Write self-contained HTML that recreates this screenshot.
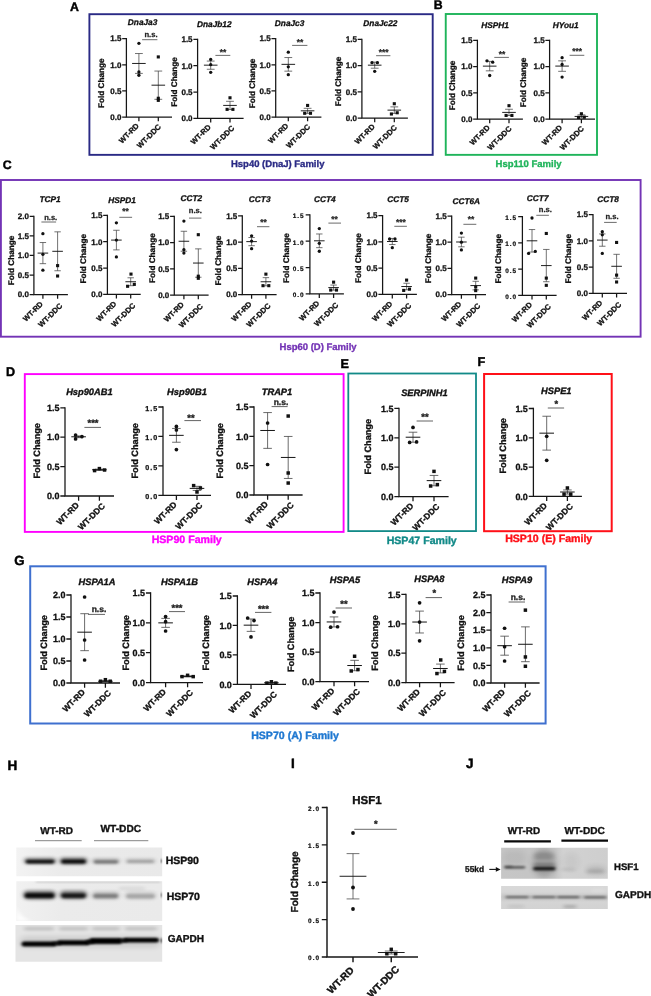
<!DOCTYPE html><html><head><meta charset="utf-8"><title>Figure</title>
<style>html,body{margin:0;padding:0;background:#fff}svg{display:block}</style></head><body>
<svg width="651" height="996" viewBox="0 0 651 996" font-family='"Liberation Sans", Arial, sans-serif' font-weight="bold" fill="#111" text-rendering="geometricPrecision">
<defs><filter id="b1" x="-20%" y="-100%" width="140%" height="300%"><feGaussianBlur stdDeviation="1.6 1.0"/></filter><filter id="b2" x="-20%" y="-100%" width="140%" height="300%"><feGaussianBlur stdDeviation="2.2 1.6"/></filter><filter id="b3" x="-20%" y="-200%" width="140%" height="500%"><feGaussianBlur stdDeviation="3 2.4"/></filter><linearGradient id="g1"><stop offset="0" stop-color="#f3f3f3"/><stop offset="0.3" stop-color="#ebebeb"/><stop offset="1" stop-color="#e9e9e9"/></linearGradient><linearGradient id="g2"><stop offset="0" stop-color="#f1f1f1"/><stop offset="0.3" stop-color="#ebebeb"/><stop offset="1" stop-color="#eaeaea"/></linearGradient><linearGradient id="g4"><stop offset="0" stop-color="#c6c6c6"/><stop offset="0.5" stop-color="#c4c4c4"/><stop offset="0.58" stop-color="#d2d2d2"/><stop offset="1" stop-color="#cecece"/></linearGradient><linearGradient id="g5" x2="0" y2="1"><stop offset="0" stop-color="#d9d9d9"/><stop offset="1" stop-color="#d2d2d2"/></linearGradient></defs>
<rect width="651" height="996" fill="#fff"/>
<rect x="89.4" y="14.2" width="343.3" height="140.65" fill="none" stroke="#2a2a85" stroke-width="1.9"/>
<rect x="445.75" y="14" width="151.25" height="140.85" fill="none" stroke="#1fb45a" stroke-width="1.9"/>
<rect x="0.9" y="180" width="639.7" height="156.7" fill="none" stroke="#7333b5" stroke-width="1.9"/>
<rect x="24.8" y="374.1" width="318.8" height="157.8" fill="none" stroke="#ff00ff" stroke-width="1.9"/>
<rect x="348.3" y="373.5" width="127.7" height="157.6" fill="none" stroke="#128a88" stroke-width="1.8"/>
<rect x="484.1" y="374" width="127.6" height="157.2" fill="none" stroke="#ff1018" stroke-width="2"/>
<rect x="30.2" y="566.3" width="515.4" height="157.2" fill="none" stroke="#3f70cf" stroke-width="2"/>
<text x="69.9" y="10.8" font-size="12.3" fill="#000" stroke="#000" stroke-width="0.43">A</text>
<text x="433.8" y="8.8" font-size="12.3" fill="#000" stroke="#000" stroke-width="0.43">B</text>
<text x="2.7" y="168.9" font-size="12.3" fill="#000" stroke="#000" stroke-width="0.43">C</text>
<text x="6" y="375.8" font-size="12.6" fill="#000" stroke="#000" stroke-width="0.44">D</text>
<text x="340.5" y="367.6" font-size="12.6" fill="#000" stroke="#000" stroke-width="0.44">E</text>
<text x="477.6" y="365.5" font-size="12.6" fill="#000" stroke="#000" stroke-width="0.44">F</text>
<text x="14.2" y="565" font-size="13.2" fill="#000" stroke="#000" stroke-width="0.46">G</text>
<text x="7.6" y="769.5" font-size="13.5" fill="#000" stroke="#000" stroke-width="0.47">H</text>
<text x="291" y="767.7" font-size="13.5" fill="#000" stroke="#000" stroke-width="0.47">I</text>
<text x="465.9" y="767.6" font-size="13.5" fill="#000" stroke="#000" stroke-width="0.47">J</text>
<text x="277.7" y="166.6" font-size="9.5" text-anchor="middle" fill="#2a2a85" stroke="#2a2a85" stroke-width="0.33">Hsp40 (DnaJ) Family</text>
<text x="528.6" y="166.6" font-size="9.5" text-anchor="middle" fill="#1fb45a" stroke="#1fb45a" stroke-width="0.33">Hsp110 Family</text>
<text x="318.1" y="349.9" font-size="9.5" text-anchor="middle" fill="#7333b5" stroke="#7333b5" stroke-width="0.33">Hsp60 (D) Family</text>
<text x="186.7" y="543" font-size="10.6" text-anchor="middle" fill="#ff00ff" stroke="#ff00ff" stroke-width="0.37">HSP90 Family</text>
<text x="421.7" y="544" font-size="10.6" text-anchor="middle" fill="#128a88" stroke="#128a88" stroke-width="0.37">HSP47 Family</text>
<text x="548.7" y="542" font-size="10.6" text-anchor="middle" fill="#ff1018" stroke="#ff1018" stroke-width="0.37">HSP10 (E) Family</text>
<text x="295" y="739" font-size="10.6" text-anchor="middle" fill="#1f78d1" stroke="#1f78d1" stroke-width="0.37">HSP70 (A) Family</text>
<g><path d="M126.4 37.98V117.1H172" fill="none" stroke="#161616" stroke-width="1.25"/><text x="121.38" y="119.94" font-size="8" text-anchor="end" stroke="#111" stroke-width="0.28">0.0</text><text x="121.38" y="93.77" font-size="8" text-anchor="end" stroke="#111" stroke-width="0.28">0.5</text><text x="121.38" y="67.61" font-size="8" text-anchor="end" stroke="#111" stroke-width="0.28">1.0</text><text x="121.38" y="41.44" font-size="8" text-anchor="end" stroke="#111" stroke-width="0.28">1.5</text><path d="M126.4 117.1h-4.22M126.4 90.93h-4.22M126.4 64.77h-4.22M126.4 38.6h-4.22M138.9 117.1v4.22M158.3 117.1v4.22" fill="none" stroke="#161616" stroke-width="1.25"/><text transform="translate(139.5 126.3) rotate(-45)" font-size="7.6" text-anchor="end" stroke="#111" stroke-width="0.27">WT-RD</text><text transform="translate(161.4 127.3) rotate(-45)" font-size="7.6" text-anchor="end" stroke="#111" stroke-width="0.27">WT-DDC</text><text transform="translate(101.4 83.3) rotate(-90)" font-size="8.2" text-anchor="middle" dy="2.46" stroke="#111" stroke-width="0.29">Fold Change</text><text x="142.6" y="24.89" font-size="8.3" text-anchor="middle" font-style="italic" stroke="#111" stroke-width="0.29">DnaJa3</text><path d="M142.1 39.7H157.4" stroke="#3a3a3a" stroke-width="0.75"/><text x="151" y="37.33" font-size="7.6" text-anchor="middle" fill="#222" stroke="#222" stroke-width="0.27">n.s.</text><path d="M138.9 53.52V73.4M135 53.52h7.8M135 73.4h7.8" fill="none" stroke="#444" stroke-width="0.75"/><path d="M132.1 63.46h13.6" stroke="#111" stroke-width="0.94"/><circle cx="138.9" cy="43.31" r="1.65"/><circle cx="138.9" cy="71.94" r="1.65"/><circle cx="138.9" cy="75.23" r="1.65"/><path d="M158.3 71.05V99.31M154.4 71.05h7.8M154.4 99.31h7.8" fill="none" stroke="#444" stroke-width="0.75"/><path d="M151.5 85.18h13.6" stroke="#111" stroke-width="0.94"/><rect x="156.75" y="55.37" width="3.1" height="3.1"/><rect x="156.75" y="96.71" width="3.1" height="3.1"/><rect x="156.75" y="98.8" width="3.1" height="3.1"/></g>
<g><path d="M197.6 38.77V118.3H243.6" fill="none" stroke="#161616" stroke-width="1.25"/><text x="192.57" y="121.14" font-size="8" text-anchor="end" stroke="#111" stroke-width="0.28">0.0</text><text x="192.57" y="94.84" font-size="8" text-anchor="end" stroke="#111" stroke-width="0.28">0.5</text><text x="192.57" y="68.54" font-size="8" text-anchor="end" stroke="#111" stroke-width="0.28">1.0</text><text x="192.57" y="42.24" font-size="8" text-anchor="end" stroke="#111" stroke-width="0.28">1.5</text><path d="M197.6 118.3h-4.22M197.6 92h-4.22M197.6 65.7h-4.22M197.6 39.4h-4.22M210.7 118.3v4.22M230 118.3v4.22" fill="none" stroke="#161616" stroke-width="1.25"/><text transform="translate(211.3 127.5) rotate(-45)" font-size="7.6" text-anchor="end" stroke="#111" stroke-width="0.27">WT-RD</text><text transform="translate(234.8 128.7) rotate(-45)" font-size="7.6" text-anchor="end" stroke="#111" stroke-width="0.27">WT-DDC</text><text transform="translate(175 81.9) rotate(-90)" font-size="8.2" text-anchor="middle" dy="2.46" stroke="#111" stroke-width="0.29">Fold Change</text><text x="214.3" y="26.69" font-size="8.3" text-anchor="middle" font-style="italic" stroke="#111" stroke-width="0.29">DnaJb12</text><path d="M215.4 55.4H230.3" stroke="#3a3a3a" stroke-width="0.75"/><text x="223.1" y="54.85" font-size="8.36" text-anchor="middle" fill="#222" stroke="#222" stroke-width="0.29">**</text><path d="M210.7 61.07V69.28M206.8 61.07h7.8M206.8 69.28h7.8" fill="none" stroke="#444" stroke-width="0.75"/><path d="M203.9 65.17h13.6" stroke="#111" stroke-width="0.94"/><circle cx="210.7" cy="59.39" r="1.65"/><circle cx="210.7" cy="64.65" r="1.65"/><circle cx="210.7" cy="72.28" r="1.65"/><path d="M230 101.31V109.52M226.1 101.31h7.8M226.1 109.52h7.8" fill="none" stroke="#444" stroke-width="0.75"/><path d="M223.2 105.41h13.6" stroke="#111" stroke-width="0.94"/><rect x="228.45" y="96.24" width="3.1" height="3.1"/><rect x="225.55" y="107.81" width="3.1" height="3.1"/><rect x="231.35" y="107.81" width="3.1" height="3.1"/></g>
<g><path d="M275.7 37.98V117.1H321.4" fill="none" stroke="#161616" stroke-width="1.25"/><text x="270.67" y="119.94" font-size="8" text-anchor="end" stroke="#111" stroke-width="0.28">0.0</text><text x="270.67" y="93.77" font-size="8" text-anchor="end" stroke="#111" stroke-width="0.28">0.5</text><text x="270.67" y="67.61" font-size="8" text-anchor="end" stroke="#111" stroke-width="0.28">1.0</text><text x="270.67" y="41.44" font-size="8" text-anchor="end" stroke="#111" stroke-width="0.28">1.5</text><path d="M275.7 117.1h-4.22M275.7 90.93h-4.22M275.7 64.77h-4.22M275.7 38.6h-4.22M288.3 117.1v4.22M307.6 117.1v4.22" fill="none" stroke="#161616" stroke-width="1.25"/><text transform="translate(288.9 126.3) rotate(-45)" font-size="7.6" text-anchor="end" stroke="#111" stroke-width="0.27">WT-RD</text><text transform="translate(310.7 127.3) rotate(-45)" font-size="7.6" text-anchor="end" stroke="#111" stroke-width="0.27">WT-DDC</text><text transform="translate(252.1 83.4) rotate(-90)" font-size="8.2" text-anchor="middle" dy="2.46" stroke="#111" stroke-width="0.29">Fold Change</text><text x="289.6" y="25.59" font-size="8.3" text-anchor="middle" font-style="italic" stroke="#111" stroke-width="0.29">DnaJc3</text><path d="M292.1 45.4H307.4" stroke="#3a3a3a" stroke-width="0.75"/><text x="300" y="44.65" font-size="8.36" text-anchor="middle" fill="#222" stroke="#222" stroke-width="0.29">**</text><path d="M288.3 57.54V71.15M284.4 57.54h7.8M284.4 71.15h7.8" fill="none" stroke="#444" stroke-width="0.75"/><path d="M281.5 64.35h13.6" stroke="#111" stroke-width="0.94"/><circle cx="288.3" cy="52.21" r="1.65"/><circle cx="288.3" cy="66.86" r="1.65"/><circle cx="288.3" cy="74.71" r="1.65"/><path d="M307.6 108.31V113.33M303.7 108.31h7.8M303.7 113.33h7.8" fill="none" stroke="#444" stroke-width="0.75"/><path d="M300.8 110.82h13.6" stroke="#111" stroke-width="0.94"/><rect x="306.05" y="103.88" width="3.1" height="3.1"/><rect x="303.15" y="111.73" width="3.1" height="3.1"/><rect x="308.95" y="111.73" width="3.1" height="3.1"/></g>
<g><path d="M361.9 38.67V118H407.9" fill="none" stroke="#161616" stroke-width="1.25"/><text x="356.87" y="120.84" font-size="8" text-anchor="end" stroke="#111" stroke-width="0.28">0.0</text><text x="356.87" y="94.61" font-size="8" text-anchor="end" stroke="#111" stroke-width="0.28">0.5</text><text x="356.87" y="68.37" font-size="8" text-anchor="end" stroke="#111" stroke-width="0.28">1.0</text><text x="356.87" y="42.14" font-size="8" text-anchor="end" stroke="#111" stroke-width="0.28">1.5</text><path d="M361.9 118h-4.22M361.9 91.77h-4.22M361.9 65.53h-4.22M361.9 39.3h-4.22M374.7 118v4.22M394.3 118v4.22" fill="none" stroke="#161616" stroke-width="1.25"/><text transform="translate(375.3 127.2) rotate(-45)" font-size="7.6" text-anchor="end" stroke="#111" stroke-width="0.27">WT-RD</text><text transform="translate(397.4 128.2) rotate(-45)" font-size="7.6" text-anchor="end" stroke="#111" stroke-width="0.27">WT-DDC</text><text transform="translate(338.6 81.5) rotate(-90)" font-size="8.2" text-anchor="middle" dy="2.46" stroke="#111" stroke-width="0.29">Fold Change</text><text x="380.4" y="26.29" font-size="8.3" text-anchor="middle" font-style="italic" stroke="#111" stroke-width="0.29">DnaJc22</text><path d="M376.1 55.7H390.4" stroke="#3a3a3a" stroke-width="0.75"/><text x="383.6" y="55.05" font-size="8.36" text-anchor="middle" fill="#222" stroke="#222" stroke-width="0.29">***</text><path d="M374.7 62.12V68.21M370.8 62.12h7.8M370.8 68.21h7.8" fill="none" stroke="#444" stroke-width="0.75"/><path d="M367.9 65.17h13.6" stroke="#111" stroke-width="0.94"/><circle cx="372" cy="62.65" r="1.65"/><circle cx="377.4" cy="62.65" r="1.65"/><circle cx="374.7" cy="71.3" r="1.65"/><path d="M394.3 106.88V113.38M390.4 106.88h7.8M390.4 113.38h7.8" fill="none" stroke="#444" stroke-width="0.75"/><path d="M387.5 110.13h13.6" stroke="#111" stroke-width="0.94"/><rect x="392.75" y="102.18" width="3.1" height="3.1"/><rect x="389.85" y="112.46" width="3.1" height="3.1"/><rect x="395.65" y="111.2" width="3.1" height="3.1"/></g>
<g><path d="M477.4 39.77V119H522.9" fill="none" stroke="#161616" stroke-width="1.25"/><text x="472.37" y="121.84" font-size="8" text-anchor="end" stroke="#111" stroke-width="0.28">0.0</text><text x="472.37" y="95.64" font-size="8" text-anchor="end" stroke="#111" stroke-width="0.28">0.5</text><text x="472.37" y="69.44" font-size="8" text-anchor="end" stroke="#111" stroke-width="0.28">1.0</text><text x="472.37" y="43.24" font-size="8" text-anchor="end" stroke="#111" stroke-width="0.28">1.5</text><path d="M477.4 119h-4.22M477.4 92.8h-4.22M477.4 66.6h-4.22M477.4 40.4h-4.22M489.7 119v4.22M509 119v4.22" fill="none" stroke="#161616" stroke-width="1.25"/><text transform="translate(490.3 128.2) rotate(-45)" font-size="7.6" text-anchor="end" stroke="#111" stroke-width="0.27">WT-RD</text><text transform="translate(512.1 129.2) rotate(-45)" font-size="7.6" text-anchor="end" stroke="#111" stroke-width="0.27">WT-DDC</text><text transform="translate(452.1 85.4) rotate(-90)" font-size="8.2" text-anchor="middle" dy="2.46" stroke="#111" stroke-width="0.29">Fold Change</text><text x="495" y="28.39" font-size="8.3" text-anchor="middle" font-style="italic" stroke="#111" stroke-width="0.29">HSPH1</text><path d="M494.3 57.4H508.9" stroke="#3a3a3a" stroke-width="0.75"/><text x="502.1" y="56.55" font-size="8.36" text-anchor="middle" fill="#222" stroke="#222" stroke-width="0.29">**</text><path d="M489.7 61.41V70.84M485.8 61.41h7.8M485.8 70.84h7.8" fill="none" stroke="#444" stroke-width="0.75"/><path d="M482.9 66.13h13.6" stroke="#111" stroke-width="0.94"/><circle cx="487" cy="60.84" r="1.65"/><circle cx="492.7" cy="62.15" r="1.65"/><circle cx="489.7" cy="75.51" r="1.65"/><path d="M509 109.25V115.54M505.1 109.25h7.8M505.1 115.54h7.8" fill="none" stroke="#444" stroke-width="0.75"/><path d="M502.2 112.4h13.6" stroke="#111" stroke-width="0.94"/><rect x="507.45" y="104.14" width="3.1" height="3.1"/><rect x="504.55" y="113.89" width="3.1" height="3.1"/><rect x="510.35" y="113.89" width="3.1" height="3.1"/></g>
<g><path d="M549.6 39.77V119H595" fill="none" stroke="#161616" stroke-width="1.25"/><text x="544.58" y="121.84" font-size="8" text-anchor="end" stroke="#111" stroke-width="0.28">0.0</text><text x="544.58" y="95.64" font-size="8" text-anchor="end" stroke="#111" stroke-width="0.28">0.5</text><text x="544.58" y="69.44" font-size="8" text-anchor="end" stroke="#111" stroke-width="0.28">1.0</text><text x="544.58" y="43.24" font-size="8" text-anchor="end" stroke="#111" stroke-width="0.28">1.5</text><path d="M549.6 119h-4.22M549.6 92.8h-4.22M549.6 66.6h-4.22M549.6 40.4h-4.22M562.1 119v4.22M581.4 119v4.22" fill="none" stroke="#161616" stroke-width="1.25"/><text transform="translate(562.7 128.2) rotate(-45)" font-size="7.6" text-anchor="end" stroke="#111" stroke-width="0.27">WT-RD</text><text transform="translate(584.5 129.2) rotate(-45)" font-size="7.6" text-anchor="end" stroke="#111" stroke-width="0.27">WT-DDC</text><text transform="translate(524 82.5) rotate(-90)" font-size="8.2" text-anchor="middle" dy="2.46" stroke="#111" stroke-width="0.29">Fold Change</text><text x="565.7" y="28.39" font-size="8.3" text-anchor="middle" font-style="italic" stroke="#111" stroke-width="0.29">HYou1</text><path d="M569.6 55.3H584.3" stroke="#3a3a3a" stroke-width="0.75"/><text x="577.1" y="54.35" font-size="8.36" text-anchor="middle" fill="#222" stroke="#222" stroke-width="0.29">***</text><path d="M562.1 60.84V71.32M558.2 60.84h7.8M558.2 71.32h7.8" fill="none" stroke="#444" stroke-width="0.75"/><path d="M555.3 66.08h13.6" stroke="#111" stroke-width="0.94"/><circle cx="562.1" cy="57.69" r="1.65"/><circle cx="562.1" cy="64.5" r="1.65"/><circle cx="562.1" cy="77.08" r="1.65"/><path d="M581.4 114.86V118M577.5 114.86h7.8M577.5 118h7.8" fill="none" stroke="#444" stroke-width="0.75"/><path d="M574.6 116.43h13.6" stroke="#111" stroke-width="0.94"/><rect x="579.85" y="112.21" width="3.1" height="3.1"/><rect x="576.95" y="115.88" width="3.1" height="3.1"/><rect x="582.75" y="115.62" width="3.1" height="3.1"/></g>
<g><path d="M33.9 215.68V294.6H67.9" fill="none" stroke="#161616" stroke-width="1.25"/><text x="28.87" y="297.44" font-size="8" text-anchor="end" stroke="#111" stroke-width="0.28">0.0</text><text x="28.87" y="277.87" font-size="8" text-anchor="end" stroke="#111" stroke-width="0.28">0.5</text><text x="28.87" y="258.29" font-size="8" text-anchor="end" stroke="#111" stroke-width="0.28">1.0</text><text x="28.87" y="238.72" font-size="8" text-anchor="end" stroke="#111" stroke-width="0.28">1.5</text><text x="28.87" y="219.14" font-size="8" text-anchor="end" stroke="#111" stroke-width="0.28">2.0</text><path d="M33.9 294.6h-4.22M33.9 275.03h-4.22M33.9 255.45h-4.22M33.9 235.88h-4.22M33.9 216.3h-4.22M42.9 294.6v4.22M57.6 294.6v4.22" fill="none" stroke="#161616" stroke-width="1.25"/><text transform="translate(43.5 304.5) rotate(-45)" font-size="7.6" text-anchor="end" stroke="#111" stroke-width="0.27">WT-RD</text><text transform="translate(62.8 306.3) rotate(-45)" font-size="7.6" text-anchor="end" stroke="#111" stroke-width="0.27">WT-DDC</text><text transform="translate(11.1 260.4) rotate(-90)" font-size="8.2" text-anchor="middle" dy="2.46" stroke="#111" stroke-width="0.29">Fold Change</text><text x="50" y="202.09" font-size="8.3" text-anchor="middle" font-style="italic" stroke="#111" stroke-width="0.29">TCP1</text><path d="M41.4 222H56.1" stroke="#3a3a3a" stroke-width="0.75"/><text x="50.7" y="220.13" font-size="7.6" text-anchor="middle" fill="#222" stroke="#222" stroke-width="0.27">n.s.</text><path d="M42.9 242.53V263.67M39.7 242.53h6.4M39.7 263.67h6.4" fill="none" stroke="#444" stroke-width="0.75"/><path d="M37.6 253.1h10.6" stroke="#111" stroke-width="0.94"/><circle cx="42.9" cy="233.72" r="1.65"/><circle cx="42.9" cy="254.28" r="1.65"/><circle cx="42.9" cy="270.13" r="1.65"/><path d="M57.6 231.84V270.76M54.4 231.84h6.4M54.4 270.76h6.4" fill="none" stroke="#444" stroke-width="0.75"/><path d="M52.3 251.3h10.6" stroke="#111" stroke-width="0.94"/><rect x="56.05" y="264.08" width="3.1" height="3.1"/><rect x="56.05" y="274.45" width="3.1" height="3.1"/></g>
<g><path d="M107.4 214.68V294.4H140.7" fill="none" stroke="#161616" stroke-width="1.25"/><text x="102.38" y="297.24" font-size="8" text-anchor="end" stroke="#111" stroke-width="0.28">0.0</text><text x="102.38" y="270.87" font-size="8" text-anchor="end" stroke="#111" stroke-width="0.28">0.5</text><text x="102.38" y="244.51" font-size="8" text-anchor="end" stroke="#111" stroke-width="0.28">1.0</text><text x="102.38" y="218.14" font-size="8" text-anchor="end" stroke="#111" stroke-width="0.28">1.5</text><path d="M107.4 294.4h-4.22M107.4 268.03h-4.22M107.4 241.67h-4.22M107.4 215.3h-4.22M116.4 294.4v4.22M130.7 294.4v4.22" fill="none" stroke="#161616" stroke-width="1.25"/><text transform="translate(117 304.3) rotate(-45)" font-size="7.6" text-anchor="end" stroke="#111" stroke-width="0.27">WT-RD</text><text transform="translate(135.9 306.1) rotate(-45)" font-size="7.6" text-anchor="end" stroke="#111" stroke-width="0.27">WT-DDC</text><text transform="translate(83.6 258.8) rotate(-90)" font-size="8.2" text-anchor="middle" dy="2.46" stroke="#111" stroke-width="0.29">Fold Change</text><text x="122.1" y="203.29" font-size="8.3" text-anchor="middle" font-style="italic" stroke="#111" stroke-width="0.29">HSPD1</text><path d="M119.3 217.3H132.1" stroke="#3a3a3a" stroke-width="0.75"/><text x="125.4" y="213.85" font-size="8.36" text-anchor="middle" fill="#222" stroke="#222" stroke-width="0.29">**</text><path d="M116.4 230.28V249.89M113.2 230.28h6.4M113.2 249.89h6.4" fill="none" stroke="#444" stroke-width="0.75"/><path d="M111.1 240.08h10.6" stroke="#111" stroke-width="0.94"/><circle cx="116.4" cy="222.84" r="1.65"/><circle cx="116.4" cy="240.08" r="1.65"/><circle cx="116.4" cy="256.96" r="1.65"/><path d="M130.7 277.79V285.7M127.5 277.79h6.4M127.5 285.7h6.4" fill="none" stroke="#444" stroke-width="0.75"/><path d="M125.4 281.74h10.6" stroke="#111" stroke-width="0.94"/><rect x="129.45" y="272.55" width="3.1" height="3.1"/><rect x="126.05" y="284.73" width="3.1" height="3.1"/><rect x="132.75" y="282.83" width="3.1" height="3.1"/></g>
<g><path d="M174.3 215.68V295.1H208.6" fill="none" stroke="#161616" stroke-width="1.25"/><text x="169.28" y="297.94" font-size="8" text-anchor="end" stroke="#111" stroke-width="0.28">0.0</text><text x="169.28" y="271.67" font-size="8" text-anchor="end" stroke="#111" stroke-width="0.28">0.5</text><text x="169.28" y="245.41" font-size="8" text-anchor="end" stroke="#111" stroke-width="0.28">1.0</text><text x="169.28" y="219.14" font-size="8" text-anchor="end" stroke="#111" stroke-width="0.28">1.5</text><path d="M174.3 295.1h-4.22M174.3 268.83h-4.22M174.3 242.57h-4.22M174.3 216.3h-4.22M183.9 295.1v4.22M198.3 295.1v4.22" fill="none" stroke="#161616" stroke-width="1.25"/><text transform="translate(184.5 305) rotate(-45)" font-size="7.6" text-anchor="end" stroke="#111" stroke-width="0.27">WT-RD</text><text transform="translate(203.5 306.8) rotate(-45)" font-size="7.6" text-anchor="end" stroke="#111" stroke-width="0.27">WT-DDC</text><text transform="translate(152.1 258.1) rotate(-90)" font-size="8.2" text-anchor="middle" dy="2.46" stroke="#111" stroke-width="0.29">Fold Change</text><text x="191.4" y="200.99" font-size="8.3" text-anchor="middle" font-style="italic" stroke="#111" stroke-width="0.29">CCT2</text><path d="M189 218.1H201.4" stroke="#3a3a3a" stroke-width="0.75"/><text x="195.4" y="213.03" font-size="7.6" text-anchor="middle" fill="#222" stroke="#222" stroke-width="0.27">n.s.</text><path d="M183.9 231.27V251.23M180.7 231.27h6.4M180.7 251.23h6.4" fill="none" stroke="#444" stroke-width="0.75"/><path d="M178.6 241.25h10.6" stroke="#111" stroke-width="0.94"/><circle cx="183.9" cy="221.03" r="1.65"/><circle cx="183.9" cy="249.76" r="1.65"/><circle cx="183.9" cy="253.07" r="1.65"/><path d="M198.3 248.87V277.24M195.1 248.87h6.4M195.1 277.24h6.4" fill="none" stroke="#444" stroke-width="0.75"/><path d="M193 263.05h10.6" stroke="#111" stroke-width="0.94"/><rect x="196.75" y="233.14" width="3.1" height="3.1"/><rect x="196.75" y="274.64" width="3.1" height="3.1"/><rect x="196.75" y="276.74" width="3.1" height="3.1"/></g>
<g><path d="M242.3 215.28V294.6H276.6" fill="none" stroke="#161616" stroke-width="1.25"/><text x="237.28" y="297.44" font-size="8" text-anchor="end" stroke="#111" stroke-width="0.28">0.0</text><text x="237.28" y="271.21" font-size="8" text-anchor="end" stroke="#111" stroke-width="0.28">0.5</text><text x="237.28" y="244.97" font-size="8" text-anchor="end" stroke="#111" stroke-width="0.28">1.0</text><text x="237.28" y="218.74" font-size="8" text-anchor="end" stroke="#111" stroke-width="0.28">1.5</text><path d="M242.3 294.6h-4.22M242.3 268.37h-4.22M242.3 242.13h-4.22M242.3 215.9h-4.22M251.6 294.6v4.22M265.9 294.6v4.22" fill="none" stroke="#161616" stroke-width="1.25"/><text transform="translate(252.2 304.5) rotate(-45)" font-size="7.6" text-anchor="end" stroke="#111" stroke-width="0.27">WT-RD</text><text transform="translate(271.1 306.3) rotate(-45)" font-size="7.6" text-anchor="end" stroke="#111" stroke-width="0.27">WT-DDC</text><text transform="translate(218.7 260.6) rotate(-90)" font-size="8.2" text-anchor="middle" dy="2.46" stroke="#111" stroke-width="0.29">Fold Change</text><text x="259.7" y="202.09" font-size="8.3" text-anchor="middle" font-style="italic" stroke="#111" stroke-width="0.29">CCT3</text><path d="M257 226.7H269.4" stroke="#3a3a3a" stroke-width="0.75"/><text x="263.4" y="224.55" font-size="8.36" text-anchor="middle" fill="#222" stroke="#222" stroke-width="0.29">**</text><path d="M251.6 237.52V245.7M248.4 237.52h6.4M248.4 245.7h6.4" fill="none" stroke="#444" stroke-width="0.75"/><path d="M246.3 241.61h10.6" stroke="#111" stroke-width="0.94"/><circle cx="251.6" cy="235.84" r="1.65"/><circle cx="251.6" cy="241.08" r="1.65"/><circle cx="251.6" cy="248.69" r="1.65"/><path d="M265.9 277.65V285.84M262.7 277.65h6.4M262.7 285.84h6.4" fill="none" stroke="#444" stroke-width="0.75"/><path d="M260.6 281.75h10.6" stroke="#111" stroke-width="0.94"/><rect x="264.35" y="272.59" width="3.1" height="3.1"/><rect x="261.45" y="284.13" width="3.1" height="3.1"/><rect x="267.25" y="284.13" width="3.1" height="3.1"/></g>
<g><path d="M309.9 214.28V293.9H343.9" fill="none" stroke="#161616" stroke-width="1.25"/><text x="304.37" y="297.37" font-size="6.4" text-anchor="end" letter-spacing="0.9" stroke="#111" stroke-width="0.22">0.0</text><text x="304.37" y="271.04" font-size="6.4" text-anchor="end" letter-spacing="0.9" stroke="#111" stroke-width="0.22">0.5</text><text x="304.37" y="244.71" font-size="6.4" text-anchor="end" letter-spacing="0.9" stroke="#111" stroke-width="0.22">1.0</text><text x="304.37" y="218.37" font-size="6.4" text-anchor="end" letter-spacing="0.9" stroke="#111" stroke-width="0.22">1.5</text><path d="M309.9 293.9h-4.22M309.9 267.57h-4.22M309.9 241.23h-4.22M309.9 214.9h-4.22M319.3 293.9v4.22M333.6 293.9v4.22" fill="none" stroke="#161616" stroke-width="1.25"/><text transform="translate(319.9 303.8) rotate(-45)" font-size="7.6" text-anchor="end" stroke="#111" stroke-width="0.27">WT-RD</text><text transform="translate(338.8 305.6) rotate(-45)" font-size="7.6" text-anchor="end" stroke="#111" stroke-width="0.27">WT-DDC</text><text transform="translate(286.3 258.1) rotate(-90)" font-size="8.2" text-anchor="middle" dy="2.46" stroke="#111" stroke-width="0.29">Fold Change</text><text x="324.9" y="202.09" font-size="8.3" text-anchor="middle" font-style="italic" stroke="#111" stroke-width="0.29">CCT4</text><path d="M328.4 223.1H341" stroke="#3a3a3a" stroke-width="0.75"/><text x="334.6" y="221.95" font-size="8.36" text-anchor="middle" fill="#222" stroke="#222" stroke-width="0.29">**</text><path d="M319.3 233.97V247.66M316.1 233.97h6.4M316.1 247.66h6.4" fill="none" stroke="#444" stroke-width="0.75"/><path d="M314 240.81h10.6" stroke="#111" stroke-width="0.94"/><circle cx="319.3" cy="228.59" r="1.65"/><circle cx="319.3" cy="243.34" r="1.65"/><circle cx="319.3" cy="251.24" r="1.65"/><path d="M333.6 285.05V290.11M330.4 285.05h6.4M330.4 290.11h6.4" fill="none" stroke="#444" stroke-width="0.75"/><path d="M328.3 287.58h10.6" stroke="#111" stroke-width="0.94"/><rect x="332.05" y="280.61" width="3.1" height="3.1"/><rect x="329.15" y="288.51" width="3.1" height="3.1"/><rect x="334.95" y="288.51" width="3.1" height="3.1"/></g>
<g><path d="M382.6 214.97V294.4H416.9" fill="none" stroke="#161616" stroke-width="1.25"/><text x="377.57" y="297.24" font-size="8" text-anchor="end" stroke="#111" stroke-width="0.28">0.0</text><text x="377.57" y="270.97" font-size="8" text-anchor="end" stroke="#111" stroke-width="0.28">0.5</text><text x="377.57" y="244.71" font-size="8" text-anchor="end" stroke="#111" stroke-width="0.28">1.0</text><text x="377.57" y="218.44" font-size="8" text-anchor="end" stroke="#111" stroke-width="0.28">1.5</text><path d="M382.6 294.4h-4.22M382.6 268.13h-4.22M382.6 241.87h-4.22M382.6 215.6h-4.22M392.3 294.4v4.22M406.6 294.4v4.22" fill="none" stroke="#161616" stroke-width="1.25"/><text transform="translate(392.9 304.3) rotate(-45)" font-size="7.6" text-anchor="end" stroke="#111" stroke-width="0.27">WT-RD</text><text transform="translate(411.8 306.1) rotate(-45)" font-size="7.6" text-anchor="end" stroke="#111" stroke-width="0.27">WT-DDC</text><text transform="translate(358.3 258.1) rotate(-90)" font-size="8.2" text-anchor="middle" dy="2.46" stroke="#111" stroke-width="0.29">Fold Change</text><text x="398" y="202.09" font-size="8.3" text-anchor="middle" font-style="italic" stroke="#111" stroke-width="0.29">CCT5</text><path d="M394.3 226.3H406.9" stroke="#3a3a3a" stroke-width="0.75"/><text x="400.9" y="224.55" font-size="8.36" text-anchor="middle" fill="#222" stroke="#222" stroke-width="0.29">***</text><path d="M392.3 238.45V244.55M389.1 238.45h6.4M389.1 244.55h6.4" fill="none" stroke="#444" stroke-width="0.75"/><path d="M387 241.5h10.6" stroke="#111" stroke-width="0.94"/><circle cx="389.6" cy="238.98" r="1.65"/><circle cx="395" cy="238.98" r="1.65"/><circle cx="392.3" cy="247.65" r="1.65"/><path d="M406.6 283.26V289.78M403.4 283.26h6.4M403.4 289.78h6.4" fill="none" stroke="#444" stroke-width="0.75"/><path d="M401.3 286.52h10.6" stroke="#111" stroke-width="0.94"/><rect x="405.05" y="278.56" width="3.1" height="3.1"/><rect x="402.15" y="288.86" width="3.1" height="3.1"/><rect x="407.95" y="287.6" width="3.1" height="3.1"/></g>
<g><path d="M451.7 215.38V294.6H486" fill="none" stroke="#161616" stroke-width="1.25"/><text x="446.67" y="297.44" font-size="8" text-anchor="end" stroke="#111" stroke-width="0.28">0.0</text><text x="446.67" y="271.24" font-size="8" text-anchor="end" stroke="#111" stroke-width="0.28">0.5</text><text x="446.67" y="245.04" font-size="8" text-anchor="end" stroke="#111" stroke-width="0.28">1.0</text><text x="446.67" y="218.84" font-size="8" text-anchor="end" stroke="#111" stroke-width="0.28">1.5</text><path d="M451.7 294.6h-4.22M451.7 268.4h-4.22M451.7 242.2h-4.22M451.7 216h-4.22M461.4 294.6v4.22M475.7 294.6v4.22" fill="none" stroke="#161616" stroke-width="1.25"/><text transform="translate(462 304.5) rotate(-45)" font-size="7.6" text-anchor="end" stroke="#111" stroke-width="0.27">WT-RD</text><text transform="translate(480.9 306.3) rotate(-45)" font-size="7.6" text-anchor="end" stroke="#111" stroke-width="0.27">WT-DDC</text><text transform="translate(428.4 258.4) rotate(-90)" font-size="8.2" text-anchor="middle" dy="2.46" stroke="#111" stroke-width="0.29">Fold Change</text><text x="466.3" y="203.59" font-size="8.3" text-anchor="middle" font-style="italic" stroke="#111" stroke-width="0.29">CCT6A</text><path d="M463.4 224.3H476.3" stroke="#3a3a3a" stroke-width="0.75"/><text x="471" y="222.35" font-size="8.36" text-anchor="middle" fill="#222" stroke="#222" stroke-width="0.29">**</text><path d="M461.4 237.17V246.81M458.2 237.17h6.4M458.2 246.81h6.4" fill="none" stroke="#444" stroke-width="0.75"/><path d="M456.1 241.99h10.6" stroke="#111" stroke-width="0.94"/><circle cx="461.4" cy="233.03" r="1.65"/><circle cx="461.4" cy="242.2" r="1.65"/><circle cx="461.4" cy="249.9" r="1.65"/><path d="M475.7 281.29V289.88M472.5 281.29h6.4M472.5 289.88h6.4" fill="none" stroke="#444" stroke-width="0.75"/><path d="M470.4 285.59h10.6" stroke="#111" stroke-width="0.94"/><rect x="474.15" y="276.54" width="3.1" height="3.1"/><rect x="474.15" y="285.45" width="3.1" height="3.1"/><rect x="474.15" y="289.07" width="3.1" height="3.1"/></g>
<g><path d="M522.4 216.07V295.3H556.6" fill="none" stroke="#161616" stroke-width="1.25"/><text x="516.88" y="298.77" font-size="6.4" text-anchor="end" letter-spacing="0.9" stroke="#111" stroke-width="0.22">0.0</text><text x="516.88" y="272.57" font-size="6.4" text-anchor="end" letter-spacing="0.9" stroke="#111" stroke-width="0.22">0.5</text><text x="516.88" y="246.37" font-size="6.4" text-anchor="end" letter-spacing="0.9" stroke="#111" stroke-width="0.22">1.0</text><text x="516.88" y="220.17" font-size="6.4" text-anchor="end" letter-spacing="0.9" stroke="#111" stroke-width="0.22">1.5</text><path d="M522.4 295.3h-4.22M522.4 269.1h-4.22M522.4 242.9h-4.22M522.4 216.7h-4.22M532 295.3v4.22M546.3 295.3v4.22" fill="none" stroke="#161616" stroke-width="1.25"/><text transform="translate(532.6 305.2) rotate(-45)" font-size="7.6" text-anchor="end" stroke="#111" stroke-width="0.27">WT-RD</text><text transform="translate(551.5 307) rotate(-45)" font-size="7.6" text-anchor="end" stroke="#111" stroke-width="0.27">WT-DDC</text><text transform="translate(498.9 258.8) rotate(-90)" font-size="8.2" text-anchor="middle" dy="2.46" stroke="#111" stroke-width="0.29">Fold Change</text><text x="537.7" y="201.39" font-size="8.3" text-anchor="middle" font-style="italic" stroke="#111" stroke-width="0.29">CCT7</text><path d="M536.3 215.3H548.9" stroke="#3a3a3a" stroke-width="0.75"/><text x="545.3" y="212.43" font-size="7.6" text-anchor="middle" fill="#222" stroke="#222" stroke-width="0.27">n.s.</text><path d="M532 229.54V252.07M528.8 229.54h6.4M528.8 252.07h6.4" fill="none" stroke="#444" stroke-width="0.75"/><path d="M526.7 240.8h10.6" stroke="#111" stroke-width="0.94"/><circle cx="532" cy="218.01" r="1.65"/><circle cx="528.6" cy="253.38" r="1.65"/><circle cx="535.3" cy="251.44" r="1.65"/><path d="M546.3 249.45V281.73M543.1 249.45h6.4M543.1 281.73h6.4" fill="none" stroke="#444" stroke-width="0.75"/><path d="M541 265.59h10.6" stroke="#111" stroke-width="0.94"/><rect x="544.75" y="231.92" width="3.1" height="3.1"/><rect x="544.75" y="276.56" width="3.1" height="3.1"/><rect x="544.75" y="283.79" width="3.1" height="3.1"/></g>
<g><path d="M593 213.97V293.4H627" fill="none" stroke="#161616" stroke-width="1.25"/><text x="587.98" y="296.24" font-size="8" text-anchor="end" stroke="#111" stroke-width="0.28">0.0</text><text x="587.98" y="269.97" font-size="8" text-anchor="end" stroke="#111" stroke-width="0.28">0.5</text><text x="587.98" y="243.71" font-size="8" text-anchor="end" stroke="#111" stroke-width="0.28">1.0</text><text x="587.98" y="217.44" font-size="8" text-anchor="end" stroke="#111" stroke-width="0.28">1.5</text><path d="M593 293.4h-4.22M593 267.13h-4.22M593 240.87h-4.22M593 214.6h-4.22M602.3 293.4v4.22M616.6 293.4v4.22" fill="none" stroke="#161616" stroke-width="1.25"/><text transform="translate(602.9 303.3) rotate(-45)" font-size="7.6" text-anchor="end" stroke="#111" stroke-width="0.27">WT-RD</text><text transform="translate(621.8 305.1) rotate(-45)" font-size="7.6" text-anchor="end" stroke="#111" stroke-width="0.27">WT-DDC</text><text transform="translate(568.9 258.8) rotate(-90)" font-size="8.2" text-anchor="middle" dy="2.46" stroke="#111" stroke-width="0.29">Fold Change</text><text x="608.1" y="201.89" font-size="8.3" text-anchor="middle" font-style="italic" stroke="#111" stroke-width="0.29">CCT8</text><path d="M604.1 222.4H616.7" stroke="#3a3a3a" stroke-width="0.75"/><text x="612" y="219.13" font-size="7.6" text-anchor="middle" fill="#222" stroke="#222" stroke-width="0.27">n.s.</text><path d="M602.3 233.93V246.23M599.1 233.93h6.4M599.1 246.23h6.4" fill="none" stroke="#444" stroke-width="0.75"/><path d="M597 240.08h10.6" stroke="#111" stroke-width="0.94"/><circle cx="602.3" cy="231.67" r="1.65"/><circle cx="602.3" cy="234.83" r="1.65"/><circle cx="602.3" cy="253.47" r="1.65"/><path d="M616.6 254.32V278.27M613.4 254.32h6.4M613.4 278.27h6.4" fill="none" stroke="#444" stroke-width="0.75"/><path d="M611.3 266.29h10.6" stroke="#111" stroke-width="0.94"/><rect x="615.05" y="240.89" width="3.1" height="3.1"/><rect x="615.05" y="273.57" width="3.1" height="3.1"/><rect x="615.05" y="280.45" width="3.1" height="3.1"/></g>
<g><path d="M65 407.17V496H114" fill="none" stroke="#161616" stroke-width="1.27"/><text x="59.44" y="499.18" font-size="8.96" text-anchor="end" stroke="#111" stroke-width="0.31">0.0</text><text x="59.44" y="469.78" font-size="8.96" text-anchor="end" stroke="#111" stroke-width="0.31">0.5</text><text x="59.44" y="440.38" font-size="8.96" text-anchor="end" stroke="#111" stroke-width="0.31">1.0</text><text x="59.44" y="410.98" font-size="8.96" text-anchor="end" stroke="#111" stroke-width="0.31">1.5</text><path d="M65 496h-4.66M65 466.6h-4.66M65 437.2h-4.66M65 407.8h-4.66M78.6 496v4.66M99.4 496v4.66" fill="none" stroke="#161616" stroke-width="1.27"/><text transform="translate(79.6 505.73) rotate(-45)" font-size="8.51" text-anchor="end" stroke="#111" stroke-width="0.3">WT-RD</text><text transform="translate(105.5 506.53) rotate(-45)" font-size="8.51" text-anchor="end" stroke="#111" stroke-width="0.3">WT-DDC</text><text transform="translate(37.4 450.8) rotate(-90)" font-size="9.18" text-anchor="middle" dy="2.76" stroke="#111" stroke-width="0.32">Fold Change</text><text x="89.4" y="394.75" font-size="9.3" text-anchor="middle" font-style="italic" stroke="#111" stroke-width="0.33">Hsp90AB1</text><path d="M84.4 427.4H101" stroke="#3a3a3a" stroke-width="0.79"/><text x="93" y="426.43" font-size="9.36" text-anchor="middle" fill="#222" stroke="#222" stroke-width="0.33">***</text><path d="M78.6 435.91V437.67M74.3 435.91h8.6M74.3 437.67h8.6" fill="none" stroke="#444" stroke-width="0.79"/><path d="M71.3 436.79h14.6" stroke="#111" stroke-width="0.99"/><circle cx="75.58" cy="435.02" r="1.85"/><circle cx="75.58" cy="438.96" r="1.85"/><circle cx="81.96" cy="436.61" r="1.85"/><path d="M99.4 469.19V470.36M95.1 469.19h8.6M95.1 470.36h8.6" fill="none" stroke="#444" stroke-width="0.79"/><path d="M92.1 469.78h14.6" stroke="#111" stroke-width="0.99"/><rect x="92.85" y="468.86" width="3.47" height="3.47"/><rect x="97.66" y="466.86" width="3.47" height="3.47"/><rect x="102.82" y="468.27" width="3.47" height="3.47"/></g>
<g><path d="M163 406.37V495.4H211" fill="none" stroke="#161616" stroke-width="1.27"/><text x="158.15" y="499.24" font-size="7.17" text-anchor="end" letter-spacing="1.01" stroke="#111" stroke-width="0.25">0.0</text><text x="158.15" y="469.78" font-size="7.17" text-anchor="end" letter-spacing="1.01" stroke="#111" stroke-width="0.25">0.5</text><text x="158.15" y="440.31" font-size="7.17" text-anchor="end" letter-spacing="1.01" stroke="#111" stroke-width="0.25">1.0</text><text x="158.15" y="410.84" font-size="7.17" text-anchor="end" letter-spacing="1.01" stroke="#111" stroke-width="0.25">1.5</text><path d="M163 495.4h-4.66M163 465.93h-4.66M163 436.47h-4.66M163 407h-4.66M176.4 495.4v4.66M197 495.4v4.66" fill="none" stroke="#161616" stroke-width="1.27"/><text transform="translate(177.4 505.13) rotate(-45)" font-size="8.51" text-anchor="end" stroke="#111" stroke-width="0.3">WT-RD</text><text transform="translate(203.1 505.93) rotate(-45)" font-size="8.51" text-anchor="end" stroke="#111" stroke-width="0.3">WT-DDC</text><text transform="translate(135.4 450.8) rotate(-90)" font-size="9.18" text-anchor="middle" dy="2.76" stroke="#111" stroke-width="0.32">Fold Change</text><text x="187" y="394.75" font-size="9.3" text-anchor="middle" font-style="italic" stroke="#111" stroke-width="0.33">Hsp90B1</text><path d="M184.4 420.6H201" stroke="#3a3a3a" stroke-width="0.79"/><text x="191" y="421.43" font-size="9.36" text-anchor="middle" fill="#222" stroke="#222" stroke-width="0.33">**</text><path d="M176.4 428.45V442.24M172.1 428.45h8.6M172.1 442.24h8.6" fill="none" stroke="#444" stroke-width="0.79"/><path d="M169.1 435.35h14.6" stroke="#111" stroke-width="0.99"/><circle cx="176.4" cy="426.45" r="1.85"/><circle cx="176.4" cy="429.98" r="1.85"/><circle cx="176.4" cy="449.55" r="1.85"/><path d="M197 486.32V490.45M192.7 486.32h8.6M192.7 490.45h8.6" fill="none" stroke="#444" stroke-width="0.79"/><path d="M189.7 488.39h14.6" stroke="#111" stroke-width="0.99"/><rect x="191.9" y="483.88" width="3.47" height="3.47"/><rect x="198.62" y="486.24" width="3.47" height="3.47"/><rect x="195.26" y="490.25" width="3.47" height="3.47"/></g>
<g><path d="M254 406.37V495H302.6" fill="none" stroke="#161616" stroke-width="1.27"/><text x="248.44" y="498.18" font-size="8.96" text-anchor="end" stroke="#111" stroke-width="0.31">0.0</text><text x="248.44" y="468.85" font-size="8.96" text-anchor="end" stroke="#111" stroke-width="0.31">0.5</text><text x="248.44" y="439.51" font-size="8.96" text-anchor="end" stroke="#111" stroke-width="0.31">1.0</text><text x="248.44" y="410.18" font-size="8.96" text-anchor="end" stroke="#111" stroke-width="0.31">1.5</text><path d="M254 495h-4.66M254 465.67h-4.66M254 436.33h-4.66M254 407h-4.66M267.6 495v4.66M288.2 495v4.66" fill="none" stroke="#161616" stroke-width="1.27"/><text transform="translate(268.6 504.73) rotate(-45)" font-size="8.51" text-anchor="end" stroke="#111" stroke-width="0.3">WT-RD</text><text transform="translate(294.3 505.53) rotate(-45)" font-size="8.51" text-anchor="end" stroke="#111" stroke-width="0.3">WT-DDC</text><text transform="translate(220.6 450.8) rotate(-90)" font-size="9.18" text-anchor="middle" dy="2.76" stroke="#111" stroke-width="0.32">Fold Change</text><text x="277" y="394.75" font-size="9.3" text-anchor="middle" font-style="italic" stroke="#111" stroke-width="0.33">TRAP1</text><path d="M271.6 406.6H287.6" stroke="#3a3a3a" stroke-width="0.79"/><text x="281" y="404.78" font-size="8.51" text-anchor="middle" fill="#222" stroke="#222" stroke-width="0.3">n.s.</text><path d="M267.6 412.57V448.36M263.3 412.57h8.6M263.3 448.36h8.6" fill="none" stroke="#444" stroke-width="0.79"/><path d="M260.3 430.47h14.6" stroke="#111" stroke-width="0.99"/><circle cx="267.6" cy="423.02" r="1.85"/><circle cx="267.6" cy="464.49" r="1.85"/><path d="M288.2 436.45V478.46M283.9 436.45h8.6M283.9 478.46h8.6" fill="none" stroke="#444" stroke-width="0.79"/><path d="M280.9 457.45h14.6" stroke="#111" stroke-width="0.99"/><rect x="286.46" y="414.3" width="3.47" height="3.47"/><rect x="286.46" y="471.26" width="3.47" height="3.47"/><rect x="286.46" y="481.3" width="3.47" height="3.47"/></g>
<g><path d="M399 407.77V496.6H448.6" fill="none" stroke="#161616" stroke-width="1.27"/><text x="393.44" y="499.78" font-size="8.96" text-anchor="end" stroke="#111" stroke-width="0.31">0.0</text><text x="393.44" y="470.38" font-size="8.96" text-anchor="end" stroke="#111" stroke-width="0.31">0.5</text><text x="393.44" y="440.98" font-size="8.96" text-anchor="end" stroke="#111" stroke-width="0.31">1.0</text><text x="393.44" y="411.58" font-size="8.96" text-anchor="end" stroke="#111" stroke-width="0.31">1.5</text><path d="M399 496.6h-4.66M399 467.2h-4.66M399 437.8h-4.66M399 408.4h-4.66M413 496.6v4.66M434 496.6v4.66" fill="none" stroke="#161616" stroke-width="1.27"/><text transform="translate(414 506.33) rotate(-45)" font-size="8.51" text-anchor="end" stroke="#111" stroke-width="0.3">WT-RD</text><text transform="translate(440.1 507.13) rotate(-45)" font-size="8.51" text-anchor="end" stroke="#111" stroke-width="0.3">WT-DDC</text><text transform="translate(368.4 446.7) rotate(-90)" font-size="9.18" text-anchor="middle" dy="2.76" stroke="#111" stroke-width="0.32">Fold Change</text><text x="424.4" y="396.35" font-size="9.3" text-anchor="middle" font-style="italic" stroke="#111" stroke-width="0.33">SERPINH1</text><path d="M416.6 421H433" stroke="#3a3a3a" stroke-width="0.79"/><text x="425" y="420.03" font-size="9.36" text-anchor="middle" fill="#222" stroke="#222" stroke-width="0.33">**</text><path d="M413 432.21V442.21M408.7 432.21h8.6M408.7 442.21h8.6" fill="none" stroke="#444" stroke-width="0.79"/><path d="M405.7 437.21h14.6" stroke="#111" stroke-width="0.99"/><circle cx="413" cy="427.39" r="1.85"/><circle cx="409.64" cy="442.39" r="1.85"/><circle cx="416.58" cy="441.97" r="1.85"/><path d="M434 475.43V485.78M429.7 475.43h8.6M429.7 485.78h8.6" fill="none" stroke="#444" stroke-width="0.79"/><path d="M426.7 480.61h14.6" stroke="#111" stroke-width="0.99"/><rect x="432.26" y="469.64" width="3.47" height="3.47"/><rect x="428.9" y="484.28" width="3.47" height="3.47"/><rect x="435.62" y="482.87" width="3.47" height="3.47"/></g>
<g><path d="M533.4 407.87V496.4H581.9" fill="none" stroke="#161616" stroke-width="1.27"/><text x="527.84" y="499.58" font-size="8.96" text-anchor="end" stroke="#111" stroke-width="0.31">0.0</text><text x="527.84" y="470.28" font-size="8.96" text-anchor="end" stroke="#111" stroke-width="0.31">0.5</text><text x="527.84" y="440.98" font-size="8.96" text-anchor="end" stroke="#111" stroke-width="0.31">1.0</text><text x="527.84" y="411.68" font-size="8.96" text-anchor="end" stroke="#111" stroke-width="0.31">1.5</text><path d="M533.4 496.4h-4.66M533.4 467.1h-4.66M533.4 437.8h-4.66M533.4 408.5h-4.66M546.7 496.4v4.66M567.4 496.4v4.66" fill="none" stroke="#161616" stroke-width="1.27"/><text transform="translate(547.7 506.13) rotate(-45)" font-size="8.51" text-anchor="end" stroke="#111" stroke-width="0.3">WT-RD</text><text transform="translate(573.5 506.93) rotate(-45)" font-size="8.51" text-anchor="end" stroke="#111" stroke-width="0.3">WT-DDC</text><text transform="translate(502.8 445.8) rotate(-90)" font-size="9.18" text-anchor="middle" dy="2.76" stroke="#111" stroke-width="0.32">Fold Change</text><text x="556.3" y="394.45" font-size="9.3" text-anchor="middle" font-style="italic" stroke="#111" stroke-width="0.33">HSPE1</text><path d="M547.8 408H564.1" stroke="#3a3a3a" stroke-width="0.79"/><text x="556.3" y="407.33" font-size="9.36" text-anchor="middle" fill="#222" stroke="#222" stroke-width="0.33">*</text><path d="M546.7 416.24V450.11M542.4 416.24h8.6M542.4 450.11h8.6" fill="none" stroke="#444" stroke-width="0.79"/><path d="M539.4 433.17h14.6" stroke="#111" stroke-width="0.99"/><circle cx="546.7" cy="436.28" r="1.85"/><circle cx="546.7" cy="460.36" r="1.85"/><path d="M567.4 489.95V494.06M563.1 489.95h8.6M563.1 494.06h8.6" fill="none" stroke="#444" stroke-width="0.79"/><path d="M560.1 492h14.6" stroke="#111" stroke-width="0.99"/><rect x="565.66" y="486.23" width="3.47" height="3.47"/><rect x="562.3" y="492.44" width="3.47" height="3.47"/><rect x="569.02" y="492.44" width="3.47" height="3.47"/></g>
<g><path d="M71 594.37V683H120" fill="none" stroke="#161616" stroke-width="1.27"/><text x="65.44" y="686.18" font-size="8.96" text-anchor="end" stroke="#111" stroke-width="0.31">0.0</text><text x="65.44" y="664.18" font-size="8.96" text-anchor="end" stroke="#111" stroke-width="0.31">0.5</text><text x="65.44" y="642.18" font-size="8.96" text-anchor="end" stroke="#111" stroke-width="0.31">1.0</text><text x="65.44" y="620.18" font-size="8.96" text-anchor="end" stroke="#111" stroke-width="0.31">1.5</text><text x="65.44" y="598.18" font-size="8.96" text-anchor="end" stroke="#111" stroke-width="0.31">2.0</text><path d="M71 683h-4.66M71 661h-4.66M71 639h-4.66M71 617h-4.66M71 595h-4.66M84.6 683v4.66M105.4 683v4.66" fill="none" stroke="#161616" stroke-width="1.27"/><text transform="translate(85.6 692.73) rotate(-45)" font-size="8.51" text-anchor="end" stroke="#111" stroke-width="0.3">WT-RD</text><text transform="translate(111.5 693.53) rotate(-45)" font-size="8.51" text-anchor="end" stroke="#111" stroke-width="0.3">WT-DDC</text><text transform="translate(44 642.8) rotate(-90)" font-size="9.18" text-anchor="middle" dy="2.76" stroke="#111" stroke-width="0.32">Fold Change</text><text x="97" y="584.75" font-size="9.3" text-anchor="middle" font-style="italic" stroke="#111" stroke-width="0.33">HSPA1A</text><path d="M88 614.4H105" stroke="#3a3a3a" stroke-width="0.79"/><text x="99" y="611.98" font-size="8.51" text-anchor="middle" fill="#222" stroke="#222" stroke-width="0.3">n.s.</text><path d="M84.6 613.7V650.66M80.3 613.7h8.6M80.3 650.66h8.6" fill="none" stroke="#444" stroke-width="0.79"/><path d="M77.3 632.18h14.6" stroke="#111" stroke-width="0.99"/><circle cx="84.6" cy="596.98" r="1.85"/><circle cx="84.6" cy="640.01" r="1.85"/><circle cx="84.6" cy="659.99" r="1.85"/><path d="M105.4 680.71V681.77M101.1 680.71h8.6M101.1 681.77h8.6" fill="none" stroke="#444" stroke-width="0.79"/><path d="M98.1 681.24h14.6" stroke="#111" stroke-width="0.99"/><rect x="98.85" y="679.5" width="3.47" height="3.47"/><rect x="103.66" y="677.96" width="3.47" height="3.47"/><rect x="108.48" y="679.5" width="3.47" height="3.47"/></g>
<g><path d="M150.6 592.37V682.6H203" fill="none" stroke="#161616" stroke-width="1.27"/><text x="145.04" y="685.78" font-size="8.96" text-anchor="end" stroke="#111" stroke-width="0.31">0.0</text><text x="145.04" y="655.91" font-size="8.96" text-anchor="end" stroke="#111" stroke-width="0.31">0.5</text><text x="145.04" y="626.05" font-size="8.96" text-anchor="end" stroke="#111" stroke-width="0.31">1.0</text><text x="145.04" y="596.18" font-size="8.96" text-anchor="end" stroke="#111" stroke-width="0.31">1.5</text><path d="M150.6 682.6h-4.66M150.6 652.73h-4.66M150.6 622.87h-4.66M150.6 593h-4.66M165.6 682.6v4.66M187.6 682.6v4.66" fill="none" stroke="#161616" stroke-width="1.27"/><text transform="translate(166.6 692.33) rotate(-45)" font-size="8.51" text-anchor="end" stroke="#111" stroke-width="0.3">WT-RD</text><text transform="translate(193.7 693.13) rotate(-45)" font-size="8.51" text-anchor="end" stroke="#111" stroke-width="0.3">WT-DDC</text><text transform="translate(126.4 642.8) rotate(-90)" font-size="9.18" text-anchor="middle" dy="2.76" stroke="#111" stroke-width="0.32">Fold Change</text><text x="179.4" y="585.35" font-size="9.3" text-anchor="middle" font-style="italic" stroke="#111" stroke-width="0.33">HSPA1B</text><path d="M169 611.6H185" stroke="#3a3a3a" stroke-width="0.79"/><text x="177" y="611.03" font-size="9.36" text-anchor="middle" fill="#222" stroke="#222" stroke-width="0.33">***</text><path d="M165.6 618.39V627.35M161.3 618.39h8.6M161.3 627.35h8.6" fill="none" stroke="#444" stroke-width="0.79"/><path d="M158.3 622.87h14.6" stroke="#111" stroke-width="0.99"/><circle cx="165.6" cy="616.59" r="1.85"/><circle cx="165.6" cy="621.67" r="1.85"/><circle cx="165.6" cy="630.99" r="1.85"/><path d="M187.6 675.91V676.87M183.3 675.91h8.6M183.3 676.87h8.6" fill="none" stroke="#444" stroke-width="0.79"/><path d="M180.3 676.39h14.6" stroke="#111" stroke-width="0.99"/><rect x="180.26" y="674.89" width="3.47" height="3.47"/><rect x="185.86" y="673.58" width="3.47" height="3.47"/><rect x="191.46" y="674.89" width="3.47" height="3.47"/></g>
<g><path d="M237.4 595.37V684.4H286" fill="none" stroke="#161616" stroke-width="1.27"/><text x="231.84" y="687.58" font-size="8.96" text-anchor="end" stroke="#111" stroke-width="0.31">0.0</text><text x="231.84" y="658.11" font-size="8.96" text-anchor="end" stroke="#111" stroke-width="0.31">0.5</text><text x="231.84" y="628.65" font-size="8.96" text-anchor="end" stroke="#111" stroke-width="0.31">1.0</text><text x="231.84" y="599.18" font-size="8.96" text-anchor="end" stroke="#111" stroke-width="0.31">1.5</text><path d="M237.4 684.4h-4.66M237.4 654.93h-4.66M237.4 625.47h-4.66M237.4 596h-4.66M251 684.4v4.66M271.4 684.4v4.66" fill="none" stroke="#161616" stroke-width="1.27"/><text transform="translate(252 694.13) rotate(-45)" font-size="8.51" text-anchor="end" stroke="#111" stroke-width="0.3">WT-RD</text><text transform="translate(277.5 694.93) rotate(-45)" font-size="8.51" text-anchor="end" stroke="#111" stroke-width="0.3">WT-DDC</text><text transform="translate(206.6 642.8) rotate(-90)" font-size="9.18" text-anchor="middle" dy="2.76" stroke="#111" stroke-width="0.32">Fold Change</text><text x="262.4" y="585.35" font-size="9.3" text-anchor="middle" font-style="italic" stroke="#111" stroke-width="0.33">HSPA4</text><path d="M255 612.4H271.4" stroke="#3a3a3a" stroke-width="0.79"/><text x="263.4" y="611.83" font-size="9.36" text-anchor="middle" fill="#222" stroke="#222" stroke-width="0.33">***</text><path d="M251 618.98V631.36M246.7 618.98h8.6M246.7 631.36h8.6" fill="none" stroke="#444" stroke-width="0.79"/><path d="M243.7 625.17h14.6" stroke="#111" stroke-width="0.99"/><circle cx="247.64" cy="617.98" r="1.85"/><circle cx="254.02" cy="620.58" r="1.85"/><circle cx="251" cy="636.96" r="1.85"/><path d="M271.4 682.34V683.28M267.1 682.34h8.6M267.1 683.28h8.6" fill="none" stroke="#444" stroke-width="0.79"/><path d="M264.1 682.81h14.6" stroke="#111" stroke-width="0.99"/><rect x="265.18" y="681.37" width="3.47" height="3.47"/><rect x="269.66" y="680.01" width="3.47" height="3.47"/><rect x="274.14" y="681.37" width="3.47" height="3.47"/></g>
<g><path d="M320 592.37V681.6H369" fill="none" stroke="#161616" stroke-width="1.27"/><text x="314.44" y="684.78" font-size="8.96" text-anchor="end" stroke="#111" stroke-width="0.31">0.0</text><text x="314.44" y="655.25" font-size="8.96" text-anchor="end" stroke="#111" stroke-width="0.31">0.5</text><text x="314.44" y="625.71" font-size="8.96" text-anchor="end" stroke="#111" stroke-width="0.31">1.0</text><text x="314.44" y="596.18" font-size="8.96" text-anchor="end" stroke="#111" stroke-width="0.31">1.5</text><path d="M320 681.6h-4.66M320 652.07h-4.66M320 622.53h-4.66M320 593h-4.66M334 681.6v4.66M354.6 681.6v4.66" fill="none" stroke="#161616" stroke-width="1.27"/><text transform="translate(335 691.33) rotate(-45)" font-size="8.51" text-anchor="end" stroke="#111" stroke-width="0.3">WT-RD</text><text transform="translate(360.7 692.13) rotate(-45)" font-size="8.51" text-anchor="end" stroke="#111" stroke-width="0.3">WT-DDC</text><text transform="translate(291.6 644.3) rotate(-90)" font-size="9.18" text-anchor="middle" dy="2.76" stroke="#111" stroke-width="0.32">Fold Change</text><text x="345" y="583.35" font-size="9.3" text-anchor="middle" font-style="italic" stroke="#111" stroke-width="0.33">HSPA5</text><path d="M335.6 608H352" stroke="#3a3a3a" stroke-width="0.79"/><text x="344" y="607.03" font-size="9.36" text-anchor="middle" fill="#222" stroke="#222" stroke-width="0.33">**</text><path d="M334 616.92V626.96M329.7 616.92h8.6M329.7 626.96h8.6" fill="none" stroke="#444" stroke-width="0.79"/><path d="M326.7 621.94h14.6" stroke="#111" stroke-width="0.99"/><circle cx="334" cy="612.08" r="1.85"/><circle cx="330.64" cy="627.14" r="1.85"/><circle cx="337.58" cy="626.73" r="1.85"/><path d="M354.6 660.34V670.73M350.3 660.34h8.6M350.3 670.73h8.6" fill="none" stroke="#444" stroke-width="0.79"/><path d="M347.3 665.53h14.6" stroke="#111" stroke-width="0.99"/><rect x="352.86" y="654.52" width="3.47" height="3.47"/><rect x="349.5" y="669.23" width="3.47" height="3.47"/><rect x="356.22" y="667.81" width="3.47" height="3.47"/></g>
<g><path d="M406 593.77V682.6H454.6" fill="none" stroke="#161616" stroke-width="1.27"/><text x="400.44" y="685.78" font-size="8.96" text-anchor="end" stroke="#111" stroke-width="0.31">0.0</text><text x="400.44" y="656.38" font-size="8.96" text-anchor="end" stroke="#111" stroke-width="0.31">0.5</text><text x="400.44" y="626.98" font-size="8.96" text-anchor="end" stroke="#111" stroke-width="0.31">1.0</text><text x="400.44" y="597.58" font-size="8.96" text-anchor="end" stroke="#111" stroke-width="0.31">1.5</text><path d="M406 682.6h-4.66M406 653.2h-4.66M406 623.8h-4.66M406 594.4h-4.66M419.6 682.6v4.66M440.4 682.6v4.66" fill="none" stroke="#161616" stroke-width="1.27"/><text transform="translate(420.6 692.33) rotate(-45)" font-size="8.51" text-anchor="end" stroke="#111" stroke-width="0.3">WT-RD</text><text transform="translate(446.5 693.13) rotate(-45)" font-size="8.51" text-anchor="end" stroke="#111" stroke-width="0.3">WT-DDC</text><text transform="translate(375.6 643) rotate(-90)" font-size="9.18" text-anchor="middle" dy="2.76" stroke="#111" stroke-width="0.32">Fold Change</text><text x="429.4" y="582.35" font-size="9.3" text-anchor="middle" font-style="italic" stroke="#111" stroke-width="0.33">HSPA8</text><path d="M425.6 597.6H442" stroke="#3a3a3a" stroke-width="0.79"/><text x="434.4" y="596.43" font-size="9.36" text-anchor="middle" fill="#222" stroke="#222" stroke-width="0.33">*</text><path d="M419.6 611.1V632.97M415.3 611.1h8.6M415.3 632.97h8.6" fill="none" stroke="#444" stroke-width="0.79"/><path d="M412.3 622.04h14.6" stroke="#111" stroke-width="0.99"/><circle cx="419.6" cy="602.81" r="1.85"/><circle cx="419.6" cy="622.04" r="1.85"/><circle cx="419.6" cy="640.85" r="1.85"/><path d="M440.4 664.08V672.9M436.1 664.08h8.6M436.1 672.9h8.6" fill="none" stroke="#444" stroke-width="0.79"/><path d="M433.1 668.49h14.6" stroke="#111" stroke-width="0.99"/><rect x="439" y="658.23" width="3.47" height="3.47"/><rect x="435.19" y="671.81" width="3.47" height="3.47"/><rect x="442.7" y="669.69" width="3.47" height="3.47"/></g>
<g><path d="M491 594.37V683H539.6" fill="none" stroke="#161616" stroke-width="1.27"/><text x="485.44" y="686.18" font-size="8.96" text-anchor="end" stroke="#111" stroke-width="0.31">0.0</text><text x="485.44" y="668.58" font-size="8.96" text-anchor="end" stroke="#111" stroke-width="0.31">0.5</text><text x="485.44" y="650.98" font-size="8.96" text-anchor="end" stroke="#111" stroke-width="0.31">1.0</text><text x="485.44" y="633.38" font-size="8.96" text-anchor="end" stroke="#111" stroke-width="0.31">1.5</text><text x="485.44" y="615.78" font-size="8.96" text-anchor="end" stroke="#111" stroke-width="0.31">2.0</text><text x="485.44" y="598.18" font-size="8.96" text-anchor="end" stroke="#111" stroke-width="0.31">2.5</text><path d="M491 683h-4.66M491 665.4h-4.66M491 647.8h-4.66M491 630.2h-4.66M491 612.6h-4.66M491 595h-4.66M504.6 683v4.66M525.4 683v4.66" fill="none" stroke="#161616" stroke-width="1.27"/><text transform="translate(505.6 692.73) rotate(-45)" font-size="8.51" text-anchor="end" stroke="#111" stroke-width="0.3">WT-RD</text><text transform="translate(531.5 693.53) rotate(-45)" font-size="8.51" text-anchor="end" stroke="#111" stroke-width="0.3">WT-DDC</text><text transform="translate(461.6 643) rotate(-90)" font-size="9.18" text-anchor="middle" dy="2.76" stroke="#111" stroke-width="0.32">Fold Change</text><text x="517" y="583.35" font-size="9.3" text-anchor="middle" font-style="italic" stroke="#111" stroke-width="0.33">HSPA9</text><path d="M508.6 602H525" stroke="#3a3a3a" stroke-width="0.79"/><text x="518" y="599.78" font-size="8.51" text-anchor="middle" fill="#222" stroke="#222" stroke-width="0.3">n.s.</text><path d="M504.6 636.18V655.19M500.3 636.18h8.6M500.3 655.19h8.6" fill="none" stroke="#444" stroke-width="0.79"/><path d="M497.3 645.69h14.6" stroke="#111" stroke-width="0.99"/><circle cx="504.6" cy="628.26" r="1.85"/><circle cx="504.6" cy="646.74" r="1.85"/><circle cx="504.6" cy="661" r="1.85"/><path d="M525.4 626.86V661.7M521.1 626.86h8.6M521.1 661.7h8.6" fill="none" stroke="#444" stroke-width="0.79"/><path d="M518.1 644.28h14.6" stroke="#111" stroke-width="0.99"/><rect x="523.66" y="608.4" width="3.47" height="3.47"/><rect x="523.66" y="655.22" width="3.47" height="3.47"/><rect x="523.66" y="664.54" width="3.47" height="3.47"/></g>
<g><path d="M327 806.77V957H418" fill="none" stroke="#161616" stroke-width="1.45"/><text x="319.97" y="960.47" font-size="6.4" text-anchor="end" letter-spacing="1" stroke="#111" stroke-width="0.22">0.0</text><text x="319.97" y="923.1" font-size="6.4" text-anchor="end" letter-spacing="1" stroke="#111" stroke-width="0.22">0.5</text><text x="319.97" y="885.72" font-size="6.4" text-anchor="end" letter-spacing="1" stroke="#111" stroke-width="0.22">1.0</text><text x="319.97" y="848.35" font-size="6.4" text-anchor="end" letter-spacing="1" stroke="#111" stroke-width="0.22">1.5</text><text x="319.97" y="810.97" font-size="6.4" text-anchor="end" letter-spacing="1" stroke="#111" stroke-width="0.22">2.0</text><path d="M327 957h-5.22M327 919.62h-5.22M327 882.25h-5.22M327 844.88h-5.22M327 807.5h-5.22M353 957v5.22M391.25 957v5.22" fill="none" stroke="#161616" stroke-width="1.45"/><text transform="translate(354.5 971) rotate(-45)" font-size="10" text-anchor="end" stroke="#111" stroke-width="0.35">WT-RD</text><text transform="translate(399.75 970) rotate(-45)" font-size="10" text-anchor="end" stroke="#111" stroke-width="0.35">WT-DDC</text><text transform="translate(294.5 881.9) rotate(-90)" font-size="10.1" text-anchor="middle" dy="3.03" stroke="#111" stroke-width="0.35">Fold Change</text><text x="367" y="804.14" font-size="11.5" text-anchor="middle" stroke="#111" stroke-width="0.4">HSF1</text><path d="M354.3 829.3H396.8" stroke="#3a3a3a" stroke-width="0.75"/><text x="375.8" y="826.92" font-size="9.35" text-anchor="middle" fill="#222" stroke="#222" stroke-width="0.33">*</text><path d="M353 853.62V898.92M346.6 853.62h12.8M346.6 898.92h12.8" fill="none" stroke="#444" stroke-width="0.75"/><path d="M339.6 876.27h26.8" stroke="#111" stroke-width="0.94"/><circle cx="353" cy="832.99" r="1.9"/><circle cx="353" cy="887.48" r="1.9"/><circle cx="353" cy="909.01" r="1.9"/><path d="M391.25 951.02V954.01M384.85 951.02h12.8M384.85 954.01h12.8" fill="none" stroke="#444" stroke-width="0.75"/><path d="M377.85 952.51h26.8" stroke="#111" stroke-width="0.94"/><rect x="389.55" y="947.6" width="3.4" height="3.4"/><rect x="385.15" y="952.09" width="3.4" height="3.4"/><rect x="393.95" y="952.09" width="3.4" height="3.4"/></g>
<g>
<text x="56.7" y="834.3" font-size="10" text-anchor="middle" stroke="#111" stroke-width="0.35">WT-RD</text>
<text x="120.8" y="832.3" font-size="10.2" text-anchor="middle" stroke="#111" stroke-width="0.36">WT-DDC</text>
<path d="M35 840.7H81.7M94 840.7H148.3" stroke="#666" stroke-width="0.8"/>
<clipPath id="c1"><rect x="16.3" y="847.5" width="145.9" height="28.8"/></clipPath>
<clipPath id="c2"><rect x="16.3" y="881.3" width="145.9" height="39.6"/></clipPath>
<clipPath id="c3"><rect x="15.5" y="925" width="146.7" height="36.7"/></clipPath>
<g clip-path="url(#c1)"><rect x="16" y="847" width="147" height="30" fill="url(#g1)"/>
<rect x="24" y="857.48" width="32.1" height="6.84" rx="3.42" fill="#000" opacity="0.37" filter="url(#b2)"/>
<rect x="25.75" y="859.8" width="28.6" height="3.6" rx="1.8" fill="#000" opacity="0.88" filter="url(#b1)"/>
<rect x="59.5" y="857.1" width="28" height="7.6" rx="3.8" fill="#000" opacity="0.386" filter="url(#b2)"/>
<rect x="61.25" y="859.6" width="24.5" height="4" rx="2" fill="#000" opacity="0.92" filter="url(#b1)"/>
<rect x="92.1" y="858.06" width="27.8" height="6.08" rx="3.04" fill="#000" opacity="0.19" filter="url(#b2)"/>
<rect x="93.85" y="860.2" width="24.3" height="3.2" rx="1.6" fill="#000" opacity="0.38" filter="url(#b1)"/>
<rect x="125.2" y="858.05" width="30.5" height="5.7" rx="2.85" fill="#000" opacity="0.12" filter="url(#b2)"/>
<rect x="126.95" y="860.1" width="27" height="3" rx="1.5" fill="#000" opacity="0.2" filter="url(#b1)"/>
<rect x="161" y="859" width="3" height="4" rx="2" fill="#000" opacity="0.7" filter="url(#b1)"/>
</g>
<g clip-path="url(#c2)"><rect x="16" y="881" width="147" height="41" fill="url(#g2)"/>
<rect x="35.5" y="880.8" width="125" height="1.6" rx="0.8" fill="#000" opacity="0.16" filter="url(#b1)"/>
<rect x="23" y="890.15" width="33" height="9.5" rx="4.75" fill="#000" opacity="0.45" filter="url(#b2)"/>
<rect x="24.75" y="893.1" width="29.5" height="5" rx="2.5" fill="#000" opacity="0.9" filter="url(#b1)"/>
<rect x="59.5" y="890.34" width="28" height="9.12" rx="4.56" fill="#000" opacity="0.41" filter="url(#b2)"/>
<rect x="61.25" y="893.2" width="24.5" height="4.8" rx="2.4" fill="#000" opacity="0.82" filter="url(#b1)"/>
<rect x="91.5" y="890.93" width="28.4" height="8.74" rx="4.37" fill="#000" opacity="0.144" filter="url(#b2)"/>
<rect x="93.25" y="893.7" width="24.9" height="4.6" rx="2.3" fill="#000" opacity="0.36" filter="url(#b1)"/>
<rect x="124.5" y="891.13" width="32" height="8.74" rx="4.37" fill="#000" opacity="0.1" filter="url(#b2)"/>
<rect x="126.25" y="893.9" width="28.5" height="4.6" rx="2.3" fill="#000" opacity="0.2" filter="url(#b1)"/>
<rect x="119" y="887" width="26" height="3" rx="1.5" fill="#000" opacity="0.08" filter="url(#b2)"/>
<rect x="161" y="892.5" width="3" height="5" rx="2.5" fill="#000" opacity="0.6" filter="url(#b1)"/>
<path d="M16 921V905Q19 918 33 921z" fill="#fff" opacity="0.85" filter="url(#b2)"/>
</g>
<g clip-path="url(#c3)"><rect x="15" y="924.6" width="148" height="38" fill="#e4e4e4"/>
<rect x="24" y="927" width="30" height="3.2" rx="1.6" fill="#000" opacity="0.16" filter="url(#b2)"/>
<rect x="59" y="927" width="29" height="3.2" rx="1.6" fill="#000" opacity="0.16" filter="url(#b2)"/>
<rect x="92" y="927" width="28" height="3.2" rx="1.6" fill="#000" opacity="0.16" filter="url(#b2)"/>
<rect x="125" y="927" width="32" height="3.2" rx="1.6" fill="#000" opacity="0.16" filter="url(#b2)"/>
<rect x="21.5" y="941.4" width="35" height="5" rx="2.5" fill="#000" opacity="1.0" filter="url(#b1)"/>
<rect x="57" y="940.2" width="33" height="5" rx="2.5" fill="#000" opacity="1.0" filter="url(#b1)"/>
<rect x="89.3" y="938.1" width="33" height="5.8" rx="2.9" fill="#000" opacity="1.0" filter="url(#b1)"/>
<rect x="123" y="937.8" width="36" height="4.8" rx="2.4" fill="#000" opacity="1.0" filter="url(#b1)"/>
<rect x="53" y="941.6" width="8" height="3.6" rx="1.8" fill="#000" opacity="0.9" filter="url(#b1)"/>
<rect x="86" y="939.8" width="8" height="4" rx="2" fill="#000" opacity="0.95" filter="url(#b1)"/>
<rect x="119" y="938.8" width="8" height="3.6" rx="1.8" fill="#000" opacity="0.9" filter="url(#b1)"/>
<rect x="161" y="938" width="3" height="5" rx="2.5" fill="#000" opacity="0.8" filter="url(#b1)"/>
<rect x="20" y="936.5" width="140" height="11" rx="5.5" fill="#000" opacity="0.1" filter="url(#b3)"/>
</g>
<text x="165.7" y="864.3" font-size="10.5" stroke="#111" stroke-width="0.37">HSP90</text>
<text x="166.7" y="900" font-size="10.5" stroke="#111" stroke-width="0.37">HSP70</text>
<text x="167.7" y="941.7" font-size="10.1" stroke="#111" stroke-width="0.35">GAPDH</text>
</g>
<g>
<text x="523.9" y="833.8" font-size="9.9" text-anchor="middle" stroke="#111" stroke-width="0.35">WT-RD</text>
<text x="584.6" y="833.8" font-size="10.1" text-anchor="middle" stroke="#111" stroke-width="0.35">WT-DDC</text>
<path d="M504.2 841.4H550.9M561.4 840.6H608" stroke="#0a0a0a" stroke-width="2.1"/>
<clipPath id="c4"><rect x="501.1" y="847.7" width="106.7" height="31"/></clipPath>
<clipPath id="c5"><rect x="501.1" y="886" width="106.7" height="23"/></clipPath>
<g clip-path="url(#c4)"><rect x="500" y="847" width="109" height="33" fill="url(#g4)"/>
<rect x="532.5" y="848" width="23" height="30" rx="15" fill="#000" opacity="0.17" filter="url(#b3)"/>
<rect x="534" y="852.5" width="20" height="7" rx="3.5" fill="#000" opacity="0.14" filter="url(#b2)"/>
<rect x="502" y="850" width="24" height="16" rx="8" fill="#000" opacity="0.05" filter="url(#b3)"/>
<rect x="563" y="852" width="16" height="20" rx="10" fill="#000" opacity="0.04" filter="url(#b3)"/>
<rect x="587" y="866" width="18" height="8" rx="4" fill="#000" opacity="0.1" filter="url(#b3)"/>
<rect x="504.3" y="866.15" width="21" height="2.3" rx="1.15" fill="#000" opacity="0.62" filter="url(#b1)"/>
<rect x="504.5" y="865.4" width="8" height="2.4" rx="1.2" fill="#000" opacity="0.3" filter="url(#b1)"/>
<rect x="533.8" y="863" width="21" height="2.4" rx="1.2" fill="#000" opacity="0.28" filter="url(#b2)"/>
<rect x="533.3" y="867.05" width="22" height="3.3" rx="1.65" fill="#000" opacity="0.82" filter="url(#b1)"/>
<rect x="532.3" y="865.3" width="24" height="6" rx="3" fill="#000" opacity="0.18" filter="url(#b2)"/>
<rect x="561" y="868" width="14" height="3" rx="1.5" fill="#000" opacity="0.07" filter="url(#b2)"/>
<rect x="586.5" y="869.8" width="18" height="3.4" rx="1.7" fill="#000" opacity="0.12" filter="url(#b2)"/>
</g>
<g clip-path="url(#c5)"><rect x="500" y="885" width="109" height="25" fill="url(#g5)"/>
<rect x="499" y="894" width="112" height="6" rx="3" fill="#000" opacity="0.07" filter="url(#b2)"/>
<rect x="505.5" y="896.05" width="23" height="2.1" rx="1.05" fill="#000" opacity="0.42" filter="url(#b1)"/>
<rect x="532.5" y="896.05" width="23" height="2.1" rx="1.05" fill="#000" opacity="0.42" filter="url(#b1)"/>
<rect x="557.3" y="896.1" width="22" height="2.2" rx="1.1" fill="#000" opacity="0.46" filter="url(#b1)"/>
<rect x="584.25" y="896.25" width="22.5" height="2.3" rx="1.15" fill="#000" opacity="0.46" filter="url(#b1)"/>
<rect x="506" y="896.5" width="98" height="1.2" rx="0.6" fill="#000" opacity="0.16" filter="url(#b1)"/>
<rect x="563.5" y="905.3" width="13" height="2.6" rx="1.3" fill="#000" opacity="0.22" filter="url(#b2)"/>
<rect x="508" y="905.1" width="16" height="2.6" rx="1.3" fill="#000" opacity="0.08" filter="url(#b2)"/>
<rect x="591" y="888.5" width="14" height="4" rx="2" fill="#fff" opacity="0.15" filter="url(#b2)"/>
</g>
<text x="465" y="871.9" font-size="8.4" stroke="#111" stroke-width="0.29">55kd</text>
<path d="M489.3 869.4H497" stroke="#111" stroke-width="1.1"/><path d="M500.6 869.4l-4.8 -2.4v4.8z" fill="#111"/>
<text x="614" y="870" font-size="9.6" stroke="#111" stroke-width="0.34">HSF1</text>
<text x="615" y="898.3" font-size="10" stroke="#111" stroke-width="0.35">GAPDH</text>
</g>
</svg></body></html>
